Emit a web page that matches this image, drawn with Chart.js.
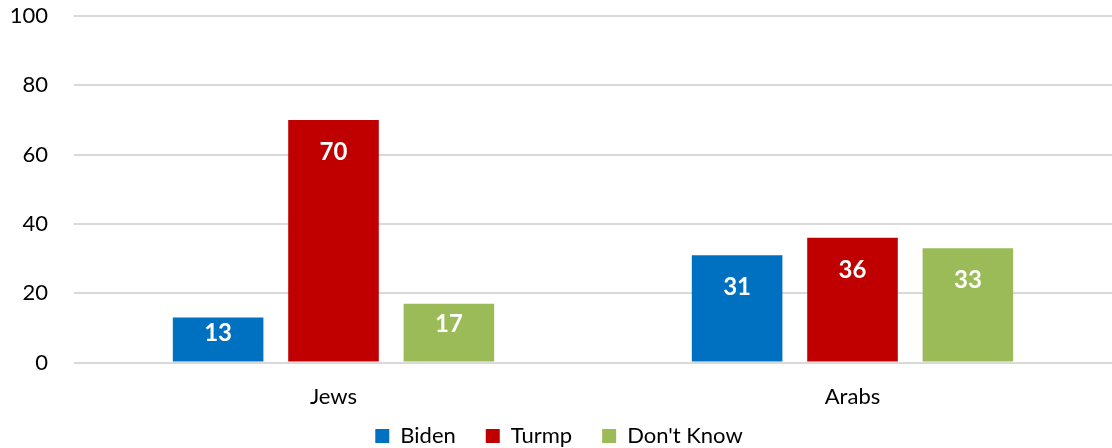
<!doctype html>
<html>
<head>
    <title>Jews and Arabs</title>
    <script src="https://cdn.jsdelivr.net/npm/chart.js@4/dist/chart.umd.min.js"></script>
    <style>
        html, body { margin: 0; padding: 0; background: #fff; }
        .canvas-container { width: 1112px; height: 448px; }
    </style>
</head>
<body>
    <div class="canvas-container">
        <canvas id="canvas"></canvas>
    </div>
    <script>
        let groups = ['Jews', 'Arabs'];
        let biden = [13, 31];
        let turmp = [70, 36];
        let dontKnow = [17, 33];
        let yTicks = [0, 20, 40, 60, 80, 100];

        const font = 'Lato, "Open Sans", sans-serif';

        // white value labels inside the top of every bar
        const barLabels = {
            id: 'barLabels',
            afterDatasetsDraw(chart) {
                const ctx = chart.ctx;
                ctx.save();
                ctx.fillStyle = '#fff';
                ctx.font = 'bold 24px ' + font;
                ctx.textAlign = 'center';
                ctx.textBaseline = 'middle';
                chart.data.datasets.forEach((ds, i) => {
                    chart.getDatasetMeta(i).data.forEach((bar, j) => {
                        let h = bar.base - bar.y;
                        let y = bar.y + Math.min(32, h * 0.35);
                        ctx.fillText(ds.data[j], bar.x, y);
                    });
                });
                ctx.restore();
            }
        };

        // pull the legend up, closer to the category labels
        const legendShift = {
            id: 'legendShift',
            afterLayout(chart) {
                chart.legend.top -= 36;
                chart.legend.bottom -= 36;
            }
        };

        let ctx = document.getElementById('canvas').getContext('2d');
        window.myBar = new Chart(ctx, {
            type: 'bar',
            data: {
                labels: groups,
                datasets: [{
                    label: 'Biden',
                    backgroundColor: '#0070C0',
                    data: biden
                }, {
                    label: 'Turmp',
                    backgroundColor: '#C00000',
                    data: turmp
                }, {
                    label: "Don't Know",
                    backgroundColor: '#9BBB59',
                    data: dontKnow
                }]
            },
            options: {
                responsive: true,
                maintainAspectRatio: false,
                animation: false,
                categoryPercentage: 0.667,
                barPercentage: 0.785,
                layout: { padding: { left: 0, right: -6, top: 0, bottom: -45 } },
                plugins: {
                    legend: {
                        position: 'bottom',
                        labels: {
                            color: '#000',
                            font: { family: font, size: 22 },
                            boxWidth: 14,
                            boxHeight: 14,
                            padding: 30
                        }
                    },
                    tooltip: { enabled: false }
                },
                scales: {
                    x: {
                        grid: { display: false, drawTicks: false },
                        border: { display: false },
                        ticks: { color: '#000', font: { family: font, size: 22 }, padding: 21 }
                    },
                    y: {
                        min: 0,
                        max: 100,
                        afterBuildTicks(axis) {
                            axis.ticks = yTicks.map(v => ({ value: v }));
                        },
                        grid: { color: '#D9D9D9', lineWidth: 2, drawTicks: false },
                        border: { display: false },
                        ticks: { color: '#000', font: { family: font, size: 22 }, padding: 26 },
                        afterFit(axis) {
                            axis.width = 74;
                            axis.paddingTop = 16;
                            axis.paddingBottom = 0;
                        }
                    }
                }
            },
            plugins: [barLabels, legendShift]
        });
    </script>
</body>
</html>
